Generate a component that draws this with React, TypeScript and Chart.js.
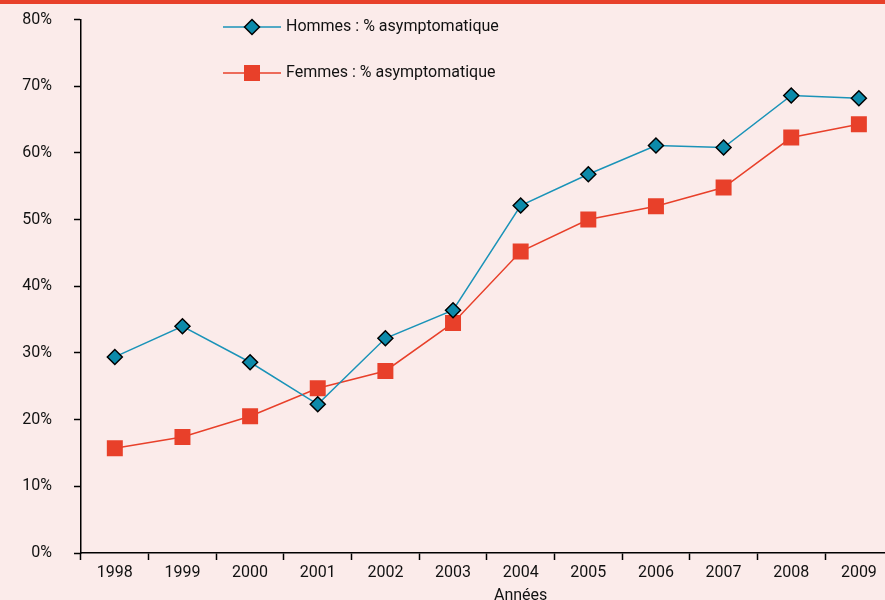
import { useEffect, useRef } from 'react';
import { Chart, registerables } from 'chart.js';

Chart.register(...registerables);

const years = ['1998', '1999', '2000', '2001', '2002', '2003', '2004', '2005', '2006', '2007', '2008', '2009'];
const hommes = [29.4, 34.0, 28.6, 22.3, 32.2, 36.4, 52.1, 56.8, 61.1, 60.8, 68.6, 68.2];
const femmes = [15.7, 17.4, 20.5, 24.7, 27.3, 34.5, 45.2, 50.0, 52.0, 54.8, 62.3, 64.3];
const seriesLabels = ['Hommes : % asymptomatique', 'Femmes : % asymptomatique'];
const xTitle = 'Années';
const yMin = 0;
const yMax = 80;
const yStep = 10;

const FONT = "Roboto, sans-serif";
const FSIZE = 16;
const TEAL_LINE = '#1A93B8';
const TEAL_FILL = '#0C8AAA';
const RED = '#E8402A';

const legendPlugin = {
  id: 'customLegend',
  afterDraw(chart: any) {
    const ctx = chart.ctx;
    const rows = [27, 73];
    ctx.save();
    chart.data.datasets.forEach((ds: any, i: number) => {
      const y = rows[i];
      ctx.strokeStyle = ds.borderColor;
      ctx.lineWidth = 1.5;
      ctx.beginPath();
      ctx.moveTo(223, y);
      ctx.lineTo(281, y);
      ctx.stroke();
      const cx = 252;
      if (ds.pointStyle === 'rectRot') {
        const r = ds.pointRadius;
        ctx.beginPath();
        ctx.moveTo(cx - r, y);
        ctx.lineTo(cx, y - r);
        ctx.lineTo(cx + r, y);
        ctx.lineTo(cx, y + r);
        ctx.closePath();
        ctx.fillStyle = ds.pointBackgroundColor;
        ctx.fill();
        ctx.strokeStyle = ds.pointBorderColor;
        ctx.lineWidth = ds.pointBorderWidth;
        ctx.stroke();
      } else {
        const s = ds.pointRadius * Math.SQRT1_2;
        ctx.fillStyle = ds.pointBackgroundColor;
        ctx.fillRect(cx - s, y - s, 2 * s, 2 * s);
      }
      ctx.fillStyle = '#111';
      ctx.font = `${FSIZE}px ${FONT}`;
      ctx.textAlign = 'left';
      ctx.textBaseline = 'middle';
      ctx.fillText(ds.label, 286, y);
    });
    const xs = chart.scales.x;
    ctx.fillStyle = '#111';
    ctx.font = `${FSIZE}px ${FONT}`;
    ctx.textAlign = 'center';
    ctx.textBaseline = 'middle';
    ctx.fillText(xTitle, xs.getPixelForValue(6), 596);
    ctx.restore();
  },
};

export default function App() {
  const ref = useRef<HTMLCanvasElement>(null);
  useEffect(() => {
    if (!ref.current) return;
    const chart = new Chart(ref.current, {
      type: 'line',
      data: {
        labels: years,
        datasets: [
          {
            label: seriesLabels[0],
            data: hommes,
            borderColor: TEAL_LINE,
            borderWidth: 1.5,
            pointStyle: 'rectRot',
            pointRadius: 7.5,
            pointBackgroundColor: TEAL_FILL,
            pointBorderColor: '#000',
            pointBorderWidth: 1.5,
            tension: 0,
          } as any,
          {
            label: seriesLabels[1],
            data: femmes,
            borderColor: RED,
            borderWidth: 1.5,
            pointStyle: 'rect',
            pointRadius: 11.3,
            pointBackgroundColor: RED,
            pointBorderColor: RED,
            pointBorderWidth: 0,
            tension: 0,
          } as any,
        ],
      },
      options: {
        animation: false,
        responsive: false,
        devicePixelRatio: 1,
        layout: { padding: { top: 19.5, right: 1, left: 0, bottom: 0 } },
        plugins: { legend: { display: false }, tooltip: { enabled: false } },
        scales: {
          x: {
            offset: true,
            grid: {
              display: true,
              offset: true,
              drawOnChartArea: false,
              drawTicks: true,
              tickLength: 7,
              tickWidth: 1.5,
              tickColor: '#000',
              color: '#000',
            },
            border: { display: true, color: '#000', width: 1.5 },
            ticks: { color: '#111', font: { family: FONT, size: FSIZE }, padding: 3, maxRotation: 0, autoSkip: false },
            afterFit: (s: any) => { s.height = 47; s.paddingLeft = 0; s.paddingRight = 0; },
          },
          y: {
            min: yMin,
            max: yMax,
            grid: {
              display: true,
              drawOnChartArea: false,
              drawTicks: true,
              tickLength: 7,
              tickWidth: 1.5,
              tickColor: '#000',
              color: '#000',
            },
            border: { display: true, color: '#000', width: 1.5 },
            ticks: {
              stepSize: yStep,
              color: '#111',
              font: { family: FONT, size: FSIZE },
              padding: 22,
              callback: (v: any) => `${v}%`,
            },
            afterFit: (s: any) => { s.width = 81; s.paddingTop = 0; s.paddingBottom = 0; },
          },
        },
      },
      plugins: [legendPlugin],
    });
    return () => chart.destroy();
  }, []);
  return (
    <div style={{ position: 'fixed', left: 0, top: 0, width: 885, height: 600, overflow: 'hidden', background: '#FBEBEA' }}>
      <div style={{ position: 'absolute', left: 0, top: 0, width: 885, height: 4, background: RED }} />
      <canvas ref={ref} width={904} height={600} style={{ position: 'absolute', left: 0, top: 0, width: 904, height: 600 }} />
    </div>
  );
}
